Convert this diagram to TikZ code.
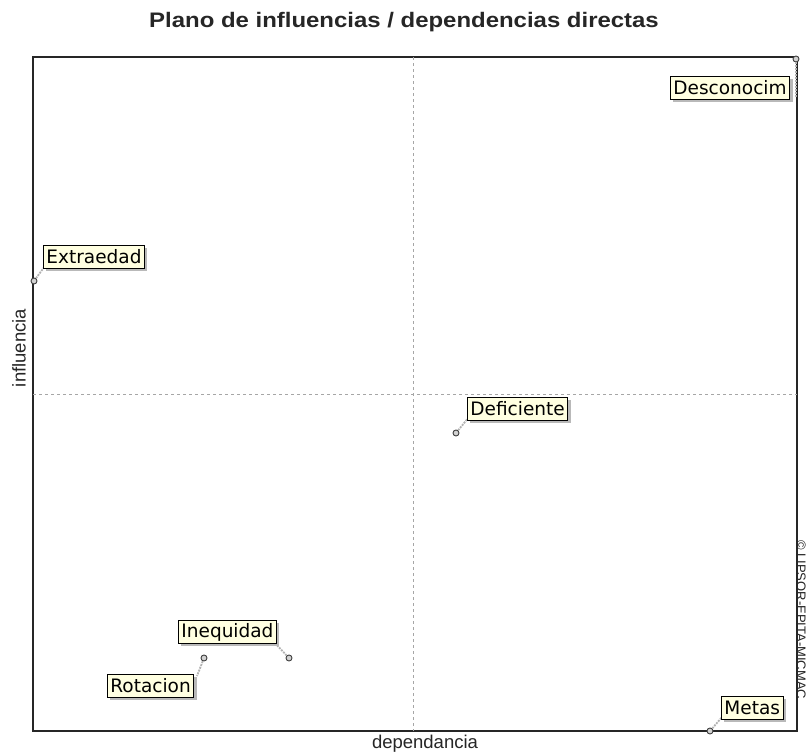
\documentclass[tikz,border=0pt]{standalone}
\usepackage{fontspec}
\setmainfont{DejaVu Sans}
\newfontfamily\arialf{Liberation Sans}
\usetikzlibrary{shadows}
\definecolor{tipfill}{RGB}{255,255,225}
\begin{document}
\begin{tikzpicture}[x=1pt,y=-1pt,
  lbl/.style={draw=black, line width=0.9pt, fill=tipfill, font=\fontsize{18.5}{18.5}\selectfont,
    inner xsep=3pt, inner ysep=2.5pt, minimum height=23pt,
    drop shadow={shadow xshift=3pt, shadow yshift=-3pt, fill=gray!55, opacity=1}},
  pt/.style={circle, draw=black!75, fill=gray!35, line width=0.9pt, inner sep=0pt, minimum size=6pt},
  leader/.style={gray!60, line width=1.8pt, dash pattern=on 2pt off 1pt},
  axislbl/.style={font=\arialf\fontsize{18.5}{18.5}\selectfont, text=black!85}]
\useasboundingbox (0,0) rectangle (807,755);
\fill[white] (0,0) rectangle (807,755);
% frame and quadrant lines
\draw[black!85, line width=1.1pt] (33,57) rectangle (797,731);
\draw[gray!70, dashed, line width=0.6pt] (413,57) -- (413,731);
\draw[gray!70, dashed, line width=0.6pt] (33,394) -- (797,394);
% title and axis labels
\node[font=\arialf\bfseries\fontsize{21}{21}\selectfont, text=black!85] (title) at (404,22) {\scalebox{1.14}[1]{Plano de influencias / dependencias directas}};
\node[axislbl, rotate=90] (ylab) at (19,348) {influencia};
\node[axislbl] (xlab) at (425,744) {dependancia};
\node[font=\arialf\fontsize{13}{13}\selectfont, rotate=-90, anchor=north west, inner sep=0pt, text=black!85] (copy) at (806,540) {© LIPSOR-EPITA-MICMAC};
% points
\node[pt] (pDesc) at (796,59) {};
\node[pt] (pExtr) at (34,281) {};
\node[pt] (pDefi) at (456,433) {};
\node[pt] (pIneq) at (289,658) {};
\node[pt] (pRota) at (204,658) {};
\node[pt] (pMeta) at (710,731) {};
% leaders
\draw[leader] (pDesc) -- (796,98);
\draw[leader] (pExtr) -- (45,266);
\draw[leader] (pDefi) -- (469,417);
\draw[leader] (pIneq) -- (274,642);
\draw[leader] (pRota) -- (197,676);
\draw[leader] (pMeta) -- (723,716);
% labels
\node[lbl, anchor=north west] (lDesc) at (670,76) {Desconocim};
\node[lbl, anchor=north west] (lExtr) at (43,245) {Extraedad};
\node[lbl, anchor=north west] (lDefi) at (467,397) {Deficiente};
\node[lbl, anchor=north west] (lIneq) at (178,620) {Inequidad};
\node[lbl, anchor=north west] (lRota) at (107,674) {Rotacion};
\node[lbl, anchor=north west] (lMeta) at (721,696) {Metas};
\end{tikzpicture}
\end{document}
